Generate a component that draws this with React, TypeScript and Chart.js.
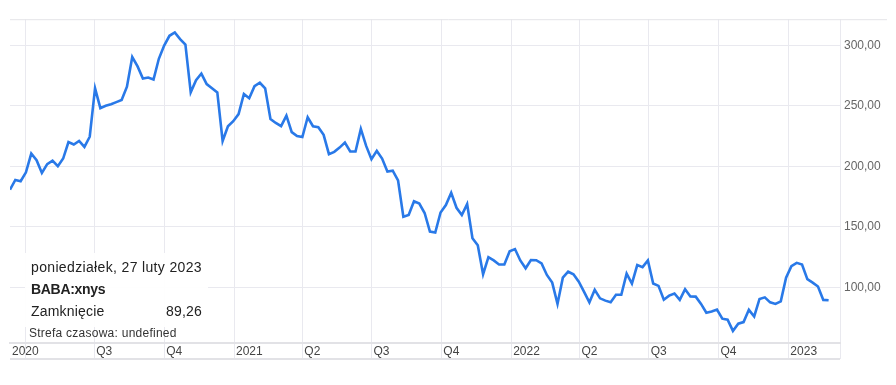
import React, { useEffect, useRef } from "react";
import { Chart, registerables } from "chart.js";

Chart.register(...registerables);

// ---- data -------------------------------------------------------------
const START_DATE = "2020-03-12"; // first weekly close shown
const WEEK_STEP_DAYS = 7;

const CLOSES: number[] = [
  180.6, 188.7, 187.7, 195, 210.5, 205, 194.5, 201.8, 204.6, 200,
  206.4, 220, 218, 220.9, 216, 224.4, 264.4, 248, 250, 251.3,
  253, 254.8, 265.7, 290.2, 282.5, 272.5, 273.3, 271.7, 288.8, 299.7,
  307.8, 310.6, 305.1, 300.5, 261.1, 271.1, 276.6, 267.9, 264.4, 261,
  220.9, 233.1, 237.2, 243.1, 259.7, 256.2, 266.2, 269, 264.4, 239.1,
  235.8, 233.1, 241.8, 228.2, 225, 224.1, 240.5, 233.1, 232.3, 226,
  210, 211.9, 215.4, 219.5, 212.2, 212.2, 230.9, 216.8, 205.9, 212.7,
  206.4, 195.6, 196.4, 188.3, 158.3, 159.7, 171.1, 169.2, 161.4, 146.1,
  145.3, 161.8, 167.9, 178.1, 165.7, 159.7, 168.7, 140.6, 134.7, 110.8,
  124.9, 122.2, 118.9, 118.9, 129.8, 131.6, 122.2, 115.7, 122.5, 122.4,
  119.7, 110.2, 103.9, 86.3, 108, 112.9, 110.8, 104.7, 96.3, 87.6,
  98, 90.9, 89, 87.6, 93.9, 93.9, 111.3, 103.1, 118.4, 116.7,
  122.2, 103.1, 101.2, 89.8, 93.1, 94.9, 89.6, 98.5, 92.5, 92.3,
  86.3, 79, 80, 81.6, 74.1, 73.2, 64, 70, 71.3, 81.4,
  75.9, 90.4, 91.7, 87.6, 86.3, 88.4, 108, 117.5, 120.2, 118.9,
  106.7, 103.9, 100.7, 89.6, 89.26,
];

const X_TICK_DATES = [
  "2020-03-12", "2020-04-01", "2020-07-01", "2020-10-01",
  "2021-01-01", "2021-04-01", "2021-07-01", "2021-10-01",
  "2022-01-01", "2022-04-01", "2022-07-01", "2022-10-01",
  "2023-01-01", "2023-03-10",
];
const X_TICK_LABELS = [
  "2020", "", "Q3", "Q4",
  "2021", "Q2", "Q3", "Q4",
  "2022", "Q2", "Q3", "Q4",
  "2023", "",
];
const X_MAX_DATE = "2023-03-10";

const Y_TICKS = [100, 150, 200, 250, 300];
const Y_MIN = 54;
const Y_MAX = 321.5;

const TOOLTIP_DATE = "poniedziałek, 27 luty 2023";
const TOOLTIP_SYMBOL = "BABA:xnys";
const TOOLTIP_LABEL = "Zamknięcie";
const TOOLTIP_VALUE = "89,26";
const TIMEZONE_TEXT = "Strefa czasowa: undefined";

// ---- helpers ----------------------------------------------------------
const dayNum = (iso: string) => {
  const [y, m, d] = iso.split("-").map(Number);
  return (Date.UTC(y, m - 1, d) - Date.UTC(2020, 0, 1)) / 86400000;
};
const START_DAY = dayNum(START_DATE);
const POINTS = CLOSES.map((v, i) => ({ x: START_DAY + i * WEEK_STEP_DAYS, y: v }));
const X_TICK_DAYS = X_TICK_DATES.map(dayNum);

const FONT = "'Liberation Sans', Arial, sans-serif";
const GRID = "#e9e9ef";
const TICK_LEN = 16;

const framePlugin = {
  id: "frame",
  beforeDatasetsDraw(chart: any) {
    const { ctx, chartArea } = chart;
    ctx.save();
    ctx.strokeStyle = "#e4e4e8";
    ctx.lineWidth = 1;
    ctx.beginPath();
    ctx.moveTo(chartArea.left, chartArea.top + 0.5);
    ctx.lineTo(chart.width - 1, chartArea.top + 0.5);
    ctx.stroke();
    ctx.lineWidth = 2;
    ctx.strokeStyle = "#e2e2e6";
    ctx.beginPath();
    const yb = chartArea.bottom + TICK_LEN;
    ctx.moveTo(chartArea.left, yb);
    ctx.lineTo(chartArea.right, yb);
    ctx.stroke();
    ctx.restore();
  },
};

export default function App() {
  const ref = useRef<HTMLCanvasElement | null>(null);

  useEffect(() => {
    if (!ref.current) return;
    const chart = new Chart(ref.current, {
      type: "line",
      data: {
        datasets: [
          {
            label: TOOLTIP_SYMBOL,
            data: POINTS,
            borderColor: "#2979e8",
            borderWidth: 2.6,
            pointRadius: 0,
            tension: 0,
            fill: false,
          },
        ],
      },
      options: {
        animation: false,
        responsive: false,
        maintainAspectRatio: false,
        layout: { padding: { left: 2, right: 0, top: 7, bottom: 16 } },
        plugins: { legend: { display: false }, tooltip: { enabled: false } },
        scales: {
          x: {
            type: "linear",
            min: START_DAY,
            max: dayNum(X_MAX_DATE),
            afterBuildTicks: (scale: any) => {
              scale.ticks = X_TICK_DAYS.map((v) => ({ value: v }));
            },
            afterFit: (scale: any) => {
              scale.height = 18;
            },
            grid: {
              color: (c: any) => (c.index === 0 ? "rgba(0,0,0,0)" : GRID),
              lineWidth: 1,
              drawTicks: true,
              tickLength: TICK_LEN,
            },
            border: { display: true, color: "#e2e2e6", width: 2 },
            ticks: {
              autoSkip: false,
              maxRotation: 0,
              align: "start",
              labelOffset: 2,
              padding: -15,
              color: "#444",
              font: { family: FONT, size: 12 },
              callback: (v: any) => {
                const i = X_TICK_DAYS.indexOf(Number(v));
                return i >= 0 ? X_TICK_LABELS[i] : "";
              },
            },
          },
          y: {
            position: "right",
            min: Y_MIN,
            max: Y_MAX,
            afterBuildTicks: (scale: any) => {
              scale.ticks = Y_TICKS.map((v) => ({ value: v }));
            },
            afterFit: (scale: any) => {
              scale.width = 48;
            },
            grid: { color: GRID, lineWidth: 1, drawTicks: false },
            border: { display: false },
            ticks: {
              padding: 4,
              color: "#666",
              font: { family: FONT, size: 12 },
              callback: (v: any) => Number(v).toFixed(2).replace(".", ","),
            },
          },
        },
      },
      plugins: [framePlugin],
    });
    return () => chart.destroy();
  }, []);

  return (
    <div style={{ position: "relative", width: 880, height: 369, fontFamily: FONT }}>
      <canvas ref={ref} width={880} height={369} style={{ display: "block", width: 880, height: 369 }} />
      <div
        style={{
          position: "absolute",
          left: 17,
          top: 245,
          width: 183,
          height: 74,
          boxSizing: "border-box",
          padding: "3px 6px 0 6px",
          background: "rgba(255,255,255,0.92)",
          color: "#222",
          fontSize: 14,
          lineHeight: "22px",
        }}
      >
        <div style={{ letterSpacing: "0.35px", whiteSpace: "nowrap" }}>{TOOLTIP_DATE}</div>
        <div style={{ fontWeight: "bold", letterSpacing: "-0.3px" }}>{TOOLTIP_SYMBOL}</div>
        <div style={{ display: "flex", justifyContent: "space-between", letterSpacing: "0.2px" }}>
          <span>{TOOLTIP_LABEL}</span>
          <span>{TOOLTIP_VALUE}</span>
        </div>
      </div>
      <div
        style={{
          position: "absolute",
          left: 21,
          top: 317,
          fontSize: 12,
          lineHeight: "16px",
          color: "#333",
          whiteSpace: "nowrap",
          letterSpacing: "0.25px",
        }}
      >
        {TIMEZONE_TEXT}
      </div>
    </div>
  );
}
